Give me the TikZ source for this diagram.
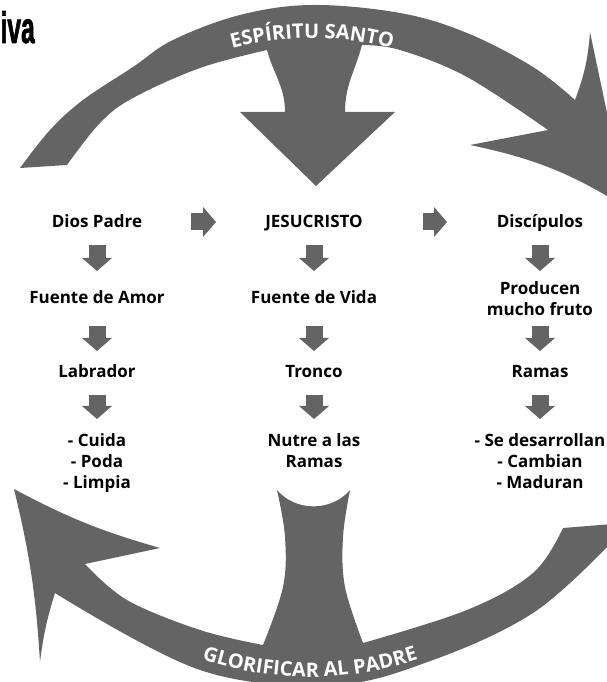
\documentclass[tikz,border=0pt]{standalone}
\usepackage{fontspec}
\setmainfont{Open Sans}
\newfontfamily\titlefont[FakeBold=2]{Liberation Sans}
\usepackage{graphicx}
\usepackage{tikz}
\usetikzlibrary{arrows.meta}
\usetikzlibrary{decorations.text}
\definecolor{arrgray}{RGB}{100,100,100}

\begin{document}
\begin{tikzpicture}[x=1pt,y=1pt,
			main node/.style={inner sep=0pt,anchor=base,
				font=\fontsize{17}{21}\selectfont\bfseries},
			list node/.style={main node,anchor=north,align=center},
			block arrow/.style={color=arrgray,line width=17pt,
				-{Triangle[length=13pt,width=30pt,line width=0pt,fill=arrgray]}},
			band/.style={fill=arrgray},
			band text/.style={decorate,decoration={text along path,
				text align=center,text color=white,
				text={|\fontsize{20}{24}\selectfont\bfseries|#1}}}]
			
			\useasboundingbox (0,0) rectangle (607,682);
			\clip (0,0) rectangle (607,682);
			
			\fill[band] (20,514)
				-- plot[smooth,tension=0.6] coordinates {(20,514) (50,552) (83,582) (133,615) (173,642) (240,667) (312,677) (400,669) (467,649) (533,615) (575,582)}
				to[bend right=8] (590,650) -- (627,474)
				to[bend right=10] (470,537) -- (548,552)
				-- plot[smooth,tension=0.6] coordinates {(548,552) (467,605) (400,632) (362,637)}
				to[out=-105,in=90] (345,570) -- (395,570) -- (316,496) -- (240,570) -- (285,570)
				to[out=90,in=-75] (267,632)
				-- plot[smooth,tension=0.6] coordinates {(267,632) (200,614) (133,584) (100,559) (67,517)}
				-- cycle;
			
			\fill[band] (14,193)
				to[bend right=6] (160,134) -- (85,118)
				-- plot[smooth,tension=0.6] coordinates {(85,118) (127,82) (200,52) (263,37)}
				-- plot[smooth,tension=0.6] coordinates {(263,37) (283,95) (285,145) (277,192)}
				to[out=-50,in=-130] (350,192)
				-- plot[smooth,tension=0.6] coordinates {(350,192) (343,145) (345,95) (363,39)}
				-- plot[smooth,tension=0.6] coordinates {(363,39) (467,72) (533,109) (563,154)}
				-- (625,159) -- (607,135)
				-- plot[smooth,tension=0.6] coordinates {(607,135) (533,69) (433,22) (333,-3) (200,12) (55,89)}
				to[bend right=5] (40,20)
				to[bend right=5] cycle;
			
			\coordinate (topc) at (312,337);
			\coordinate (botc) at (310,345);
			\path[band text=ESPÍRITU SANTO] ([shift={(130:307)}]topc)
				arc[start angle=130,end angle=50,radius=307];
			\path[band text=GLORIFICAR AL PADRE] ([shift={(235:340)}]botc)
				arc[start angle=235,end angle=305,radius=340];
			
			\node[anchor=base east,inner sep=0pt,
				font=\titlefont\bfseries\fontsize{44}{44}\selectfont] (title) at (35,639)
				{\scalebox{0.56}[1]{iva}};
			
			\node[main node] (dios) at (97,454) {Dios Padre};
			\node[main node] (jesus) at (314,454) {JESUCRISTO};
			\node[main node] (disc) at (540,454) {Discípulos};
			\node[main node] (famor) at (97,378) {Fuente de Amor};
			\node[main node] (fvida) at (314,378) {Fuente de Vida};
			\node[list node] (fruto) at (540,401) {Producen\\mucho fruto};
			\node[main node] (labr) at (97,304) {Labrador};
			\node[main node] (tronco) at (314,304) {Tronco};
			\node[main node] (ramas) at (540,304) {Ramas};
			\node[list node] (cuida) at (97,249) {- Cuida\\- Poda\\- Limpia};
			\node[list node] (nutre) at (314,249) {Nutre a las\\Ramas};
			\node[list node] (madura) at (540,249) {- Se desarrollan\\- Cambian\\- Maduran};
			
			\path[block arrow]
			([yshift=6pt]dios.base) edge[shorten <=94pt,shorten >=98pt] ([yshift=6pt]jesus.base)
			([yshift=6pt]jesus.base) edge[shorten <=109pt,shorten >=93pt] ([yshift=6pt]disc.base)
			(dios.base) edge[shorten <=17pt,shorten >=33pt] (famor.base)
			(famor.base) edge[shorten <=22pt,shorten >=27pt] (labr.base)
			(labr.base) edge[shorten <=17pt,shorten >=14pt] (cuida.north)
			(jesus.base) edge[shorten <=17pt,shorten >=33pt] (fvida.base)
			(fvida.base) edge[shorten <=22pt,shorten >=27pt] (tronco.base)
			(tronco.base) edge[shorten <=17pt,shorten >=14pt] (nutre.north)
			(disc.base) edge[shorten <=17pt,shorten >=10pt] (fruto.north)
			(fruto.north) edge[shorten <=45pt,shorten >=27pt] (ramas.base)
			(ramas.base) edge[shorten <=17pt,shorten >=14pt] (madura.north);
		\end{tikzpicture}
\end{document}
